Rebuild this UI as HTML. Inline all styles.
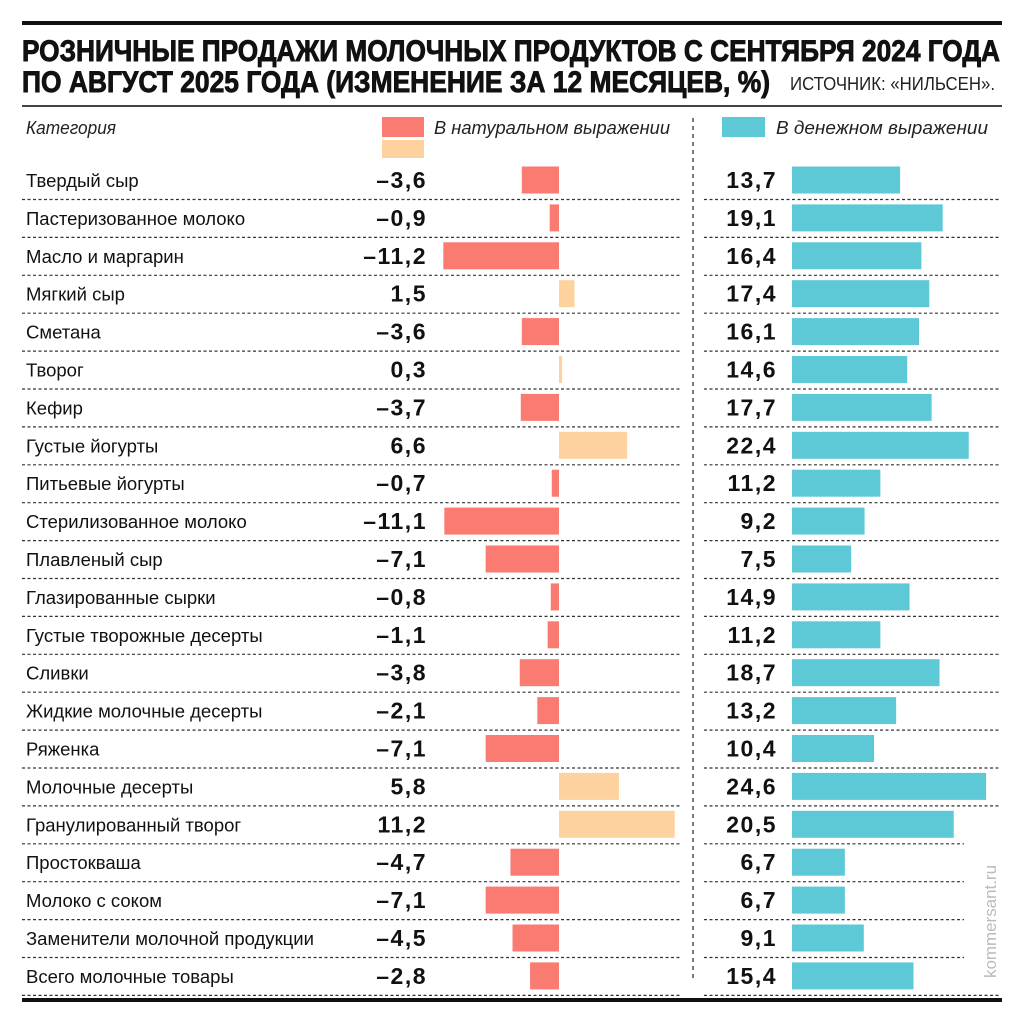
<!DOCTYPE html>
<html><head><meta charset="utf-8"><style>
html,body{margin:0;padding:0;background:#fff;}
svg{display:block;}
text{font-family:"Liberation Sans",sans-serif;}
</style></head><body>
<svg width="1024" height="1024" viewBox="0 0 1024 1024" xmlns="http://www.w3.org/2000/svg">
<rect x="22" y="21" width="980" height="4" fill="#111"/>
<text x="22" y="61" font-size="30" font-weight="bold" stroke="#111" stroke-width="0.9" textLength="978" lengthAdjust="spacingAndGlyphs" fill="#111">РОЗНИЧНЫЕ ПРОДАЖИ МОЛОЧНЫХ ПРОДУКТОВ С СЕНТЯБРЯ 2024 ГОДА</text>
<text x="22" y="92" font-size="30" font-weight="bold" stroke="#111" stroke-width="0.9" textLength="748" lengthAdjust="spacingAndGlyphs" fill="#111">ПО АВГУСТ 2025 ГОДА (ИЗМЕНЕНИЕ ЗА 12 МЕСЯЦЕВ, %)</text>
<text x="790" y="90" font-size="18" textLength="205" lengthAdjust="spacingAndGlyphs" fill="#222">ИСТОЧНИК: «НИЛЬСЕН».</text>
<rect x="22" y="105" width="980" height="2" fill="#444"/>
<text x="26" y="134" font-size="18" font-style="italic" fill="#222" textLength="90" lengthAdjust="spacingAndGlyphs">Категория</text>
<rect x="382" y="117" width="42" height="20" fill="#f97b72"/>
<rect x="382" y="140" width="42" height="18" fill="#fdd29e"/>
<text x="434" y="134" font-size="18" font-style="italic" fill="#222" textLength="236" lengthAdjust="spacingAndGlyphs">В натуральном выражении</text>
<rect x="722" y="117" width="43" height="20" fill="#5ec9d6"/>
<text x="776" y="134" font-size="18" font-style="italic" fill="#222" textLength="212" lengthAdjust="spacingAndGlyphs">В денежном выражении</text>
<line x1="693" y1="118" x2="693" y2="982" stroke="#333" stroke-width="1.3" stroke-dasharray="4,4"/>
<g id="rows"></g>
<text transform="translate(996,978) rotate(-90)" font-size="17" fill="#bbb" textLength="113" lengthAdjust="spacingAndGlyphs">kommersant.ru</text>
<rect x="22" y="998" width="980" height="4" fill="#111"/>
</svg>
<script>
var d=[["Твердый сыр",-3.6,13.7],["Пастеризованное молоко",-0.9,19.1],["Масло и маргарин",-11.2,16.4],["Мягкий сыр",1.5,17.4],["Сметана",-3.6,16.1],["Творог",0.3,14.6],["Кефир",-3.7,17.7],["Густые йогурты",6.6,22.4],["Питьевые йогурты",-0.7,11.2],["Стерилизованное молоко",-11.1,9.2],["Плавленый сыр",-7.1,7.5],["Глазированные сырки",-0.8,14.9],["Густые творожные десерты",-1.1,11.2],["Сливки",-3.8,18.7],["Жидкие молочные десерты",-2.1,13.2],["Ряженка",-7.1,10.4],["Молочные десерты",5.8,24.6],["Гранулированный творог",11.2,20.5],["Простокваша",-4.7,6.7],["Молоко с соком",-7.1,6.7],["Заменители молочной продукции",-4.5,9.1],["Всего молочные товары",-2.8,15.4]];
var s="";
function f(v){var t=Math.abs(v).toFixed(1).replace(".",",");return (v<0?"–":"")+t;}
d.forEach(function(r,i){
 var c=180+i*37.9;
 s+='<text x="26" y="'+(c+7)+'" font-size="18.5" fill="#111">'+r[0]+'</text>';
 s+='<text x="427" y="'+(c+8)+'" font-size="23" font-weight="bold" letter-spacing="1.5" fill="#111" text-anchor="end">'+f(r[1])+'</text>';
 var w=Math.abs(r[1])*10.33, x=r[1]<0?559-w:559;
 s+='<rect x="'+x+'" y="'+(c-13.5)+'" width="'+w+'" height="27" fill="'+(r[1]<0?"#f97b72":"#fdd29e")+'"/>';
 s+='<text x="777" y="'+(c+8)+'" font-size="23" font-weight="bold" letter-spacing="1.5" fill="#111" text-anchor="end">'+f(r[2])+'</text>';
 s+='<rect x="792" y="'+(c-13.5)+'" width="'+(r[2]*7.89)+'" height="27" fill="#5ec9d6"/>';
 var ly=c+19.5;
 s+='<line x1="22" y1="'+ly+'" x2="681" y2="'+ly+'" stroke="#333" stroke-width="1.2" stroke-dasharray="3,2.5"/>';
 var xe=(i>=17&&i<=20)?964:1000;
 s+='<line x1="704" y1="'+ly+'" x2="'+xe+'" y2="'+ly+'" stroke="#333" stroke-width="1.2" stroke-dasharray="3,2.5"/>';
});
document.getElementById("rows").innerHTML=s;
</script>
</body></html>
